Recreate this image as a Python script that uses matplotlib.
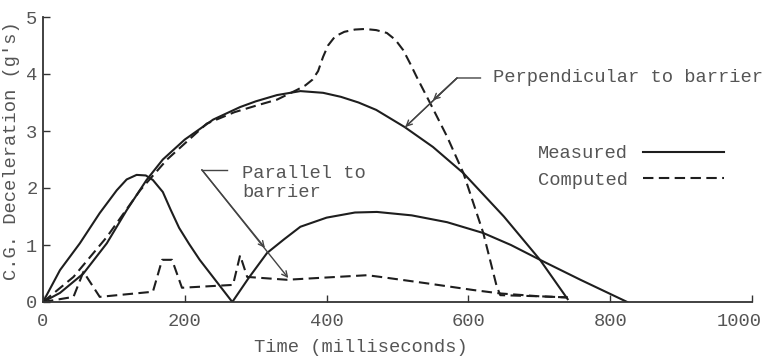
import matplotlib
matplotlib.use("Agg")
import matplotlib.pyplot as plt
from matplotlib.transforms import ScaledTranslation

plt.rcParams['font.family'] = ['Liberation Mono', 'DejaVu Sans Mono']

# perpendicular to barrier
perp_meas_t = [0, 24, 57, 90, 118, 146, 169, 200, 240, 278, 300, 330, 363, 395, 420, 445, 470, 510, 550, 593,
               650, 701, 740]
perp_meas_g = [0, 0.16, 0.5, 1.03, 1.61, 2.14, 2.5, 2.85, 3.2, 3.42, 3.52, 3.63, 3.70, 3.67, 3.6, 3.5, 3.37,
               3.07, 2.72, 2.26, 1.5, 0.74, 0.05]

perp_comp_t = [0, 43, 90, 137, 175, 231, 270, 302, 330, 358, 370, 380, 388, 395, 402, 412, 425, 440, 454, 470,
               485, 497, 508, 518, 527, 546, 570, 593, 621, 640, 645, 700, 740]
perp_comp_g = [0, 0.44, 1.14, 1.96, 2.5, 3.13, 3.33, 3.45, 3.55, 3.72, 3.8, 3.9, 4.05, 4.3, 4.5, 4.66, 4.74,
               4.78, 4.79, 4.77, 4.72, 4.6, 4.42, 4.18, 3.95, 3.49, 2.9, 2.26, 1.21, 0.27, 0.12, 0.1, 0.08]

# parallel to barrier
par_meas_t = [0, 24, 52, 80, 104, 118, 132, 145, 155, 169, 180, 192, 206, 221, 267, 290, 316, 340, 363, 400,
              440, 471, 520, 570, 621, 660, 701, 758, 824]
par_meas_g = [0, 0.56, 1.03, 1.56, 1.96, 2.15, 2.23, 2.22, 2.14, 1.93, 1.62, 1.3, 1.02, 0.74, 0, 0.42, 0.86,
              1.1, 1.32, 1.48, 1.57, 1.58, 1.52, 1.4, 1.21, 1.0, 0.74, 0.39, 0]

par_comp_t = [0, 43, 57, 80, 155, 168, 182, 196, 268, 278, 288, 344, 400, 457, 476, 540, 607, 645, 700, 740]
par_comp_g = [0, 0.09, 0.53, 0.09, 0.18, 0.74, 0.74, 0.25, 0.3, 0.82, 0.44, 0.39, 0.43, 0.47, 0.44, 0.33, 0.21,
              0.15, 0.1, 0.08]

x_ticks = [0, 200, 400, 600, 800, 1000]
y_ticks = [0, 1, 2, 3, 4, 5]

# leader lines for the notes
perp_note = (634, 3.93)
perp_leader_t = [617, 584, 511]
perp_leader_g = [3.93, 3.93, 3.07]
perp_arrow_tips = [(550, 3.54), (511, 3.07)]
par_note = (281, 2.09)
par_leader_t = [260, 224]
par_leader_g = [2.32, 2.32]
par_arrow_tips = [(313, 0.95), (346, 0.42)]

ink = '#1e1e1e'
txt = '#555555'
fs = 13.5

fig = plt.figure(figsize=(7.64, 3.57), dpi=100)
ax = fig.add_axes([43/764, 55/357, 709/764, 285/357])

dash = (0, (5, 2.6))
ax.plot(perp_meas_t, perp_meas_g, color=ink, lw=1.5, label='Measured')
ax.plot(perp_comp_t, perp_comp_g, color=ink, lw=1.5, ls=dash, label='Computed')
ax.plot(par_meas_t, par_meas_g, color=ink, lw=1.5)
ax.plot(par_comp_t, par_comp_g, color=ink, lw=1.5, ls=dash)

# notes
ax.plot(perp_leader_t, perp_leader_g, color='#444444', lw=1)
for tip in perp_arrow_tips:
    ax.annotate('', xy=tip, xytext=(perp_leader_t[1], perp_leader_g[1]),
                arrowprops=dict(arrowstyle='->', color='#444444', lw=1, shrinkA=0, shrinkB=0))
ax.text(perp_note[0], perp_note[1], 'Perpendicular to barrier', fontsize=fs, color=txt, va='center', ha='left')

ax.plot(par_leader_t, par_leader_g, color='#444444', lw=1)
for tip in par_arrow_tips:
    ax.annotate('', xy=tip, xytext=(par_leader_t[1], par_leader_g[1]),
                arrowprops=dict(arrowstyle='->', color='#444444', lw=1, shrinkA=0, shrinkB=0))
ax.text(par_note[0], par_note[1], 'Parallel to\nbarrier', fontsize=fs, color=txt, va='center', ha='left',
        linespacing=1.15)

leg = ax.legend(loc='center', bbox_to_anchor=(0.829, 0.474), frameon=False, markerfirst=False,
                handlelength=4.3, handletextpad=0.8, labelspacing=0.5, fontsize=fs, borderaxespad=0)
for t in leg.get_texts():
    t.set_color(txt)

ax.set_xlim(0, 1000)
ax.set_ylim(0, 5)
ax.set_xticks(x_ticks)
ax.set_yticks(y_ticks)
ax.tick_params(direction='in', length=5, width=1, colors='#333333', labelcolor=txt, labelsize=fs)
ax.tick_params(axis='x', pad=8)
ax.tick_params(axis='y', pad=4)
for s in ['top', 'right']:
    ax.spines[s].set_visible(False)
for s in ['left', 'bottom']:
    ax.spines[s].set_linewidth(1.3)
    ax.spines[s].set_color('#333333')

# last x label sits left of its tick so it stays on the page
fig.canvas.draw()
last = ax.get_xticklabels()[-1]
last.set_horizontalalignment('right')
last.set_transform(last.get_transform() + ScaledTranslation(7/72, 0, fig.dpi_scale_trans))

ax.set_xlabel('Time (milliseconds)', fontsize=fs, color=txt, va='center')
ax.xaxis.set_label_coords(0.449, -0.158)
ax.set_ylabel("C.G. Deceleration (g's)", fontsize=fs, color=txt, va='center')
ax.yaxis.set_label_coords(-0.044, 0.53)

fig.savefig('out.png', dpi=100)
